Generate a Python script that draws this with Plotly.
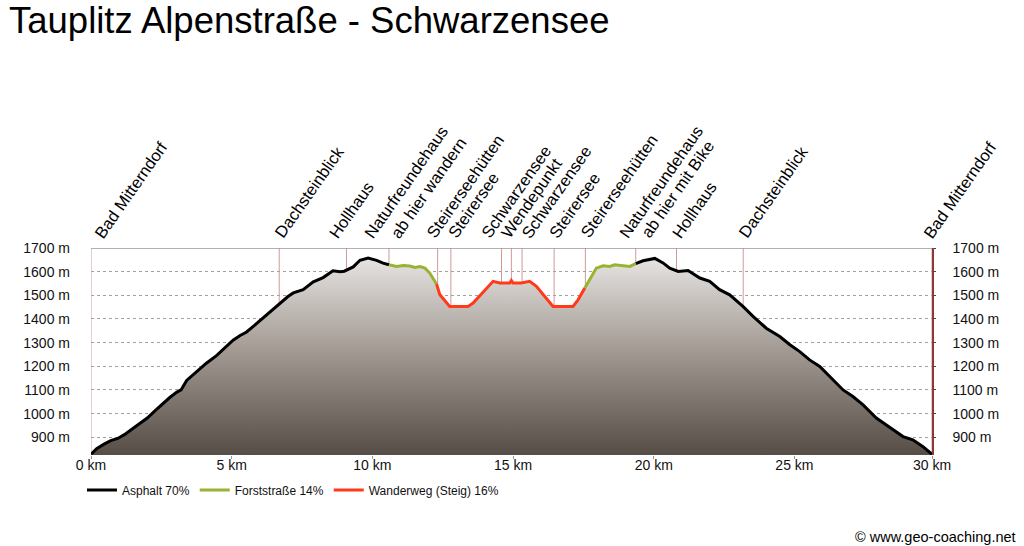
import plotly.graph_objects as go

# ---------------- data ----------------
title = "Tauplitz Alpenstraße - Schwarzensee"

km = [0.00, 0.20, 0.45, 0.70, 0.95, 1.20, 1.50, 1.75, 2.00, 2.30, 2.56, 2.80, 3.04, 3.20,
      3.40, 3.70, 4.10, 4.46, 4.75, 5.05, 5.30, 5.53, 5.80, 6.12, 6.40, 6.72, 7.00, 7.19,
      7.54, 7.90, 8.25, 8.60, 8.85, 9.00, 9.14, 9.32, 9.56, 9.85, 10.15, 10.38, 10.59,
      10.86, 11.10, 11.33, 11.51, 11.69, 11.87, 12.04, 12.28,
      12.40, 12.75, 13.40, 13.58, 14.29, 14.53, 14.88, 14.94, 15.00, 15.29, 15.59, 15.83,
      16.42, 17.13, 17.31, 17.55,
      17.73, 17.96, 18.20, 18.44, 18.61, 18.91, 19.15, 19.36,
      19.62, 20.04, 20.33, 20.57, 20.87, 21.22, 21.64, 21.99, 22.34, 22.70, 23.17, 23.53,
      24.00, 24.48, 24.84, 25.19, 25.54, 25.90, 26.37, 26.73, 27.08, 27.44, 27.91, 28.27,
      28.86, 29.21, 29.57, 29.89]
elev = [828, 852, 870, 886, 895, 912, 938, 958, 981, 1015, 1044, 1068, 1090, 1100,
        1140, 1172, 1213, 1245, 1275, 1310, 1330, 1345, 1372, 1404, 1436, 1467, 1495, 1510,
        1524, 1557, 1575, 1604, 1600, 1602, 1611, 1620, 1648, 1658, 1648, 1636, 1629,
        1622, 1626, 1624, 1618, 1622, 1615, 1594, 1548,
        1502, 1453, 1453, 1467, 1559, 1552, 1552, 1563, 1552, 1552, 1559, 1538,
        1453, 1453, 1481, 1531,
        1566, 1615, 1625, 1622, 1629, 1625, 1622, 1634,
        1646, 1656, 1637, 1615, 1601, 1605, 1573, 1559, 1524, 1502, 1453, 1411,
        1361, 1326, 1291, 1262, 1227, 1199, 1143, 1100, 1072, 1037, 981, 952,
        903, 889, 860, 828]

# surface sections: boundaries (km) and surface type of each section
section_bounds = [0.0, 10.59, 12.28, 17.55, 19.36, 29.89]
section_surface = ["Asphalt", "Forststraße", "Wanderweg (Steig)", "Forststraße", "Asphalt"]

surfaces = ["Asphalt", "Forststraße", "Wanderweg (Steig)"]
surface_share = [70, 14, 16]

waypoint_km = [0.0, 6.69, 9.08, 10.59, 12.32, 12.79, 14.59, 14.94, 15.32, 16.46, 17.57,
               19.36, 20.81, 23.18, 29.89]
waypoint_names = ["Bad Mitterndorf", "Dachsteinblick", "Hollhaus",
                  "Naturfreundehaus\nab hier wandern", "Steirerseehütten", "Steirersee",
                  "Schwarzensee", "Wendepunkt", "Schwarzensee", "Steirersee",
                  "Steirerseehütten", "Naturfreundehaus\nab hier mit Bike", "Hollhaus",
                  "Dachsteinblick", "Bad Mitterndorf"]

y_ticks = [900, 1000, 1100, 1200, 1300, 1400, 1500, 1600, 1700]
y_ticktext = [f"{v} m" for v in y_ticks]
x_ticks = [0, 5, 10, 15, 20, 25, 29.89]
x_ticktext = ["0 km", "5 km", "10 km", "15 km", "20 km", "25 km", "30 km"]

credit = "© www.geo-coaching.net"

# ---------------- styles ----------------
FONT = "Liberation Sans, Arial, sans-serif"
surface_colors = {"Asphalt": "#000000", "Forststraße": "#98b332",
                  "Wanderweg (Steig)": "#ff3a1a"}
# horizontal pixel offset of each label line start relative to its waypoint line
label_offsets = [[6], [-2], [-15], [-22, 4], [-8], [0], [-18], [-8], [2], [-2], [-2],
                 [-14, 8], [-2], [-2], [-6]]
y_lo, y_hi = 825, 1700
x_lo, x_hi = 0, 29.89

fig = go.Figure()

# waypoint lines (below the fill)
wx, wy = [], []
for w in waypoint_km:
    wx += [w, w, None]
    wy += [y_lo, y_hi, None]
fig.add_trace(go.Scatter(x=wx, y=wy, mode="lines", line=dict(color="#d09a9a", width=1),
                         hoverinfo="skip", showlegend=False))

# filled profile
fig.add_trace(go.Scatter(
    x=km, y=elev, mode="lines", line=dict(width=0), fill="tozeroy",
    fillgradient=dict(type="vertical", start=y_lo, stop=1660,
                      colorscale=[[0, "#564d47"], [0.5, "#9e958e"], [1, "#e6e4e2"]]),
    hoverinfo="skip", showlegend=False))

# surface lines
for s, share in zip(surfaces, surface_share):
    xs, ys = [], []
    for i, surf in enumerate(section_surface):
        if surf != s:
            continue
        a, b = section_bounds[i], section_bounds[i + 1]
        for k, e in zip(km, elev):
            if a - 1e-9 <= k <= b + 1e-9:
                xs.append(k)
                ys.append(e)
        xs.append(None)
        ys.append(None)
    fig.add_trace(go.Scatter(x=xs, y=ys, mode="lines", name=f"{s} {share}%",
                             line=dict(color=surface_colors[s], width=3),
                             connectgaps=False))

# dummy trace for right axis
fig.add_trace(go.Scatter(x=[km[0]], y=[elev[0]], yaxis="y2", mode="markers",
                         marker=dict(opacity=0), hoverinfo="skip", showlegend=False))

# labels
ann = []
for w, name, offs in zip(waypoint_km, waypoint_names, label_offsets):
    for line, off in zip(name.split("\n"), offs):
        ann.append(dict(x=w, y=y_hi, xref="x", yref="y", text=line, textangle=-55,
                        showarrow=False, xanchor="left", yanchor="bottom",
                        xshift=off - 9, yshift=4,
                        font=dict(family=FONT, size=16.5, color="#000")))
ann.append(dict(x=1.102, y=-0.397, xref="paper", yref="paper", text=credit,
                showarrow=False, xanchor="right", yanchor="middle",
                font=dict(family=FONT, size=14.5, color="#000")))

fig.update_layout(
    width=1024, height=546,
    margin=dict(l=91, r=92, t=248, b=91, autoexpand=False),
    paper_bgcolor="white", plot_bgcolor="white",
    font=dict(family=FONT, color="#111"),
    title=dict(text=title, x=9 / 1024, xanchor="left", xref="container",
               y=1 - 20 / 546, yanchor="middle", yref="container",
               font=dict(family=FONT, size=36.5, color="#000")),
    xaxis=dict(range=[x_lo, x_hi], tickvals=x_ticks, ticktext=x_ticktext,
               showgrid=False, zeroline=False, showline=False,
               ticks="outside", ticklen=3, tickcolor="#999", ticklabelstandoff=-6,
               tickfont=dict(size=14, color="#111")),
    yaxis=dict(range=[y_lo, y_hi], tickvals=y_ticks, ticktext=y_ticktext,
               showgrid=True, gridcolor="#a0a0a0", griddash="dot", gridwidth=1,
               zeroline=False, showline=False, ticklabelstandoff=20,
               tickfont=dict(size=14, color="#111")),
    yaxis2=dict(range=[y_lo, y_hi], tickvals=y_ticks, ticktext=y_ticktext,
                overlaying="y", side="right", showgrid=False, zeroline=False,
                showline=True, linecolor="#8b3a3a", linewidth=1.5, ticks="outside",
                ticklen=2, tickcolor="#444", ticklabelstandoff=14,
                tickfont=dict(size=14, color="#111")),
    legend=dict(orientation="h", x=-9 / 841, xanchor="left", y=-0.169, yanchor="middle",
                font=dict(family=FONT, size=12, color="#111"), itemwidth=30,
                bgcolor="rgba(0,0,0,0)"),
    shapes=[dict(type="line", xref="paper", yref="y", x0=0, x1=1, y0=y_hi, y1=y_hi,
                 line=dict(color="#999", width=1.5))],
    annotations=ann,
)

fig.write_html("out.html", config={"displayModeBar": False},
               post_script="document.body.style.margin='0';document.body.style.padding='0';")
